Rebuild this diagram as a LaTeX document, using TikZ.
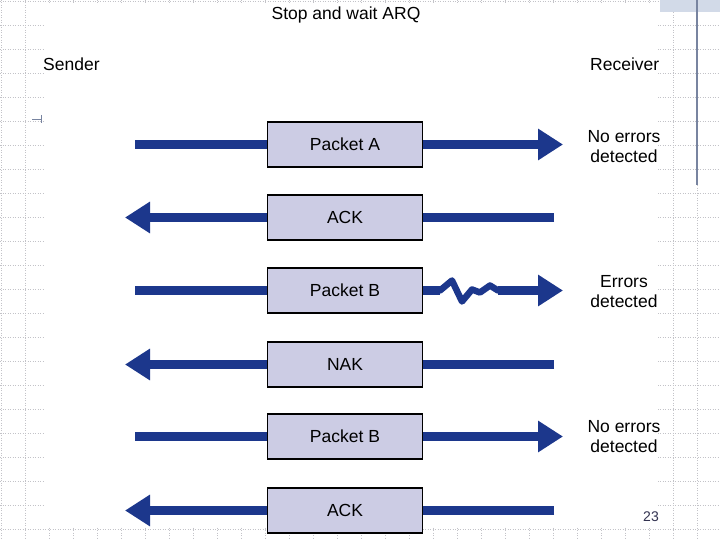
\documentclass[tikz,border=0pt]{standalone}
\usepackage{fontspec}
\setmainfont{Liberation Sans}
\usetikzlibrary{arrows.meta}
\definecolor{arrblue}{RGB}{28,55,140}
\definecolor{boxfill}{RGB}{204,204,228}
\definecolor{gridc}{RGB}{195,195,200}
\definecolor{slate}{RGB}{120,132,160}
\definecolor{band}{RGB}{210,218,232}
\definecolor{pagenum}{RGB}{50,50,80}
\begin{document}
\begin{tikzpicture}[x=1pt,y=-1pt,
  pkt/.style={draw=black, line width=1.5pt, fill=boxfill, minimum width=155pt, minimum height=45pt, inner sep=0pt, font=\fontsize{17.5}{20}\selectfont},
  lbl/.style={align=center, font=\fontsize{17.5}{20}\selectfont, inner sep=0pt},
  flowline/.style={draw=arrblue, line width=9.5pt},
  flow/.style={flowline, -{Triangle[length=25pt 0,width=30pt 0]}},
  zig/.style={draw=arrblue, line width=6.5pt, line join=round, line cap=round},
  gridline/.style={gridc, line width=0.6pt, dash pattern=on 1pt off 1.5pt}]
\useasboundingbox (0,0) rectangle (720,540);
% background grid
\foreach \i in {0,...,30} \draw[gridline] (24*\i+1,0) -- (24*\i+1,540);
\foreach \j in {0,...,22} \draw[gridline] (0,24*\j+1) -- (720,24*\j+1);
\fill[white] (45,5) rectangle (658,527);
\fill[band] (660,0) rectangle (720,12);
\draw[slate, line width=1.5pt] (697,0) -- (697,185);
\draw[slate, line width=0.8pt] (32,119) -- (41,119) (41,115) -- (41,123);
% end points
\coordinate (s1) at (135,144.5); \coordinate (r1) at (563,144.5);
\coordinate (s2) at (554,217.5); \coordinate (r2) at (125,217.5);
\coordinate (s3) at (135,290.5); \coordinate (r3) at (563,290.5);
\coordinate (z3) at (440,290.5); \coordinate (z4) at (498,290.5);
\coordinate (s4) at (554,364.5); \coordinate (r4) at (125,364.5);
\coordinate (s5) at (135,436.5); \coordinate (r5) at (563,436.5);
\coordinate (s6) at (554,510.5); \coordinate (r6) at (125,510.5);
% arrows
\draw[flow] (s1) -- (r1);
\draw[flow] (s2) -- (r2);
\draw[flowline] (s3) -- (z3);
\draw[zig] (z3) -- ++(12,-10) -- ++(10,21) -- ++(10,-12) -- ++(8,3) -- ++(10,-7) -- (z4);
\draw[flow] (z4) -- (r3);
\draw[flow] (s4) -- (r4);
\draw[flow] (s5) -- (r5);
\draw[flow] (s6) -- (r6);
% boxes
\node[pkt] (pa) at (345,144.5) {Packet A};
\node[pkt] (ack1) at (345,217.5) {ACK};
\node[pkt] (pb1) at (345,290.5) {Packet B};
\node[pkt] (nak) at (345,364.5) {NAK};
\node[pkt] (pb2) at (345,436.5) {Packet B};
\node[pkt] (ack2) at (345,510.5) {ACK};
% labels
\node[lbl, anchor=base] (title) at (346,20) {Stop and wait ARQ};
\node[lbl, anchor=base west] (sender) at (43,71) {Sender};
\node[lbl, anchor=base west] (receiver) at (590,71) {Receiver};
\node[lbl] (ne1) at (624,147) {No errors\\detected};
\node[lbl] (err) at (624,292) {Errors\\detected};
\node[lbl] (ne2) at (624,437) {No errors\\detected};
\node[font=\fontsize{14}{16}\selectfont, text=pagenum, inner sep=0pt] (page) at (651,517) {23};
\end{tikzpicture}
\end{document}
